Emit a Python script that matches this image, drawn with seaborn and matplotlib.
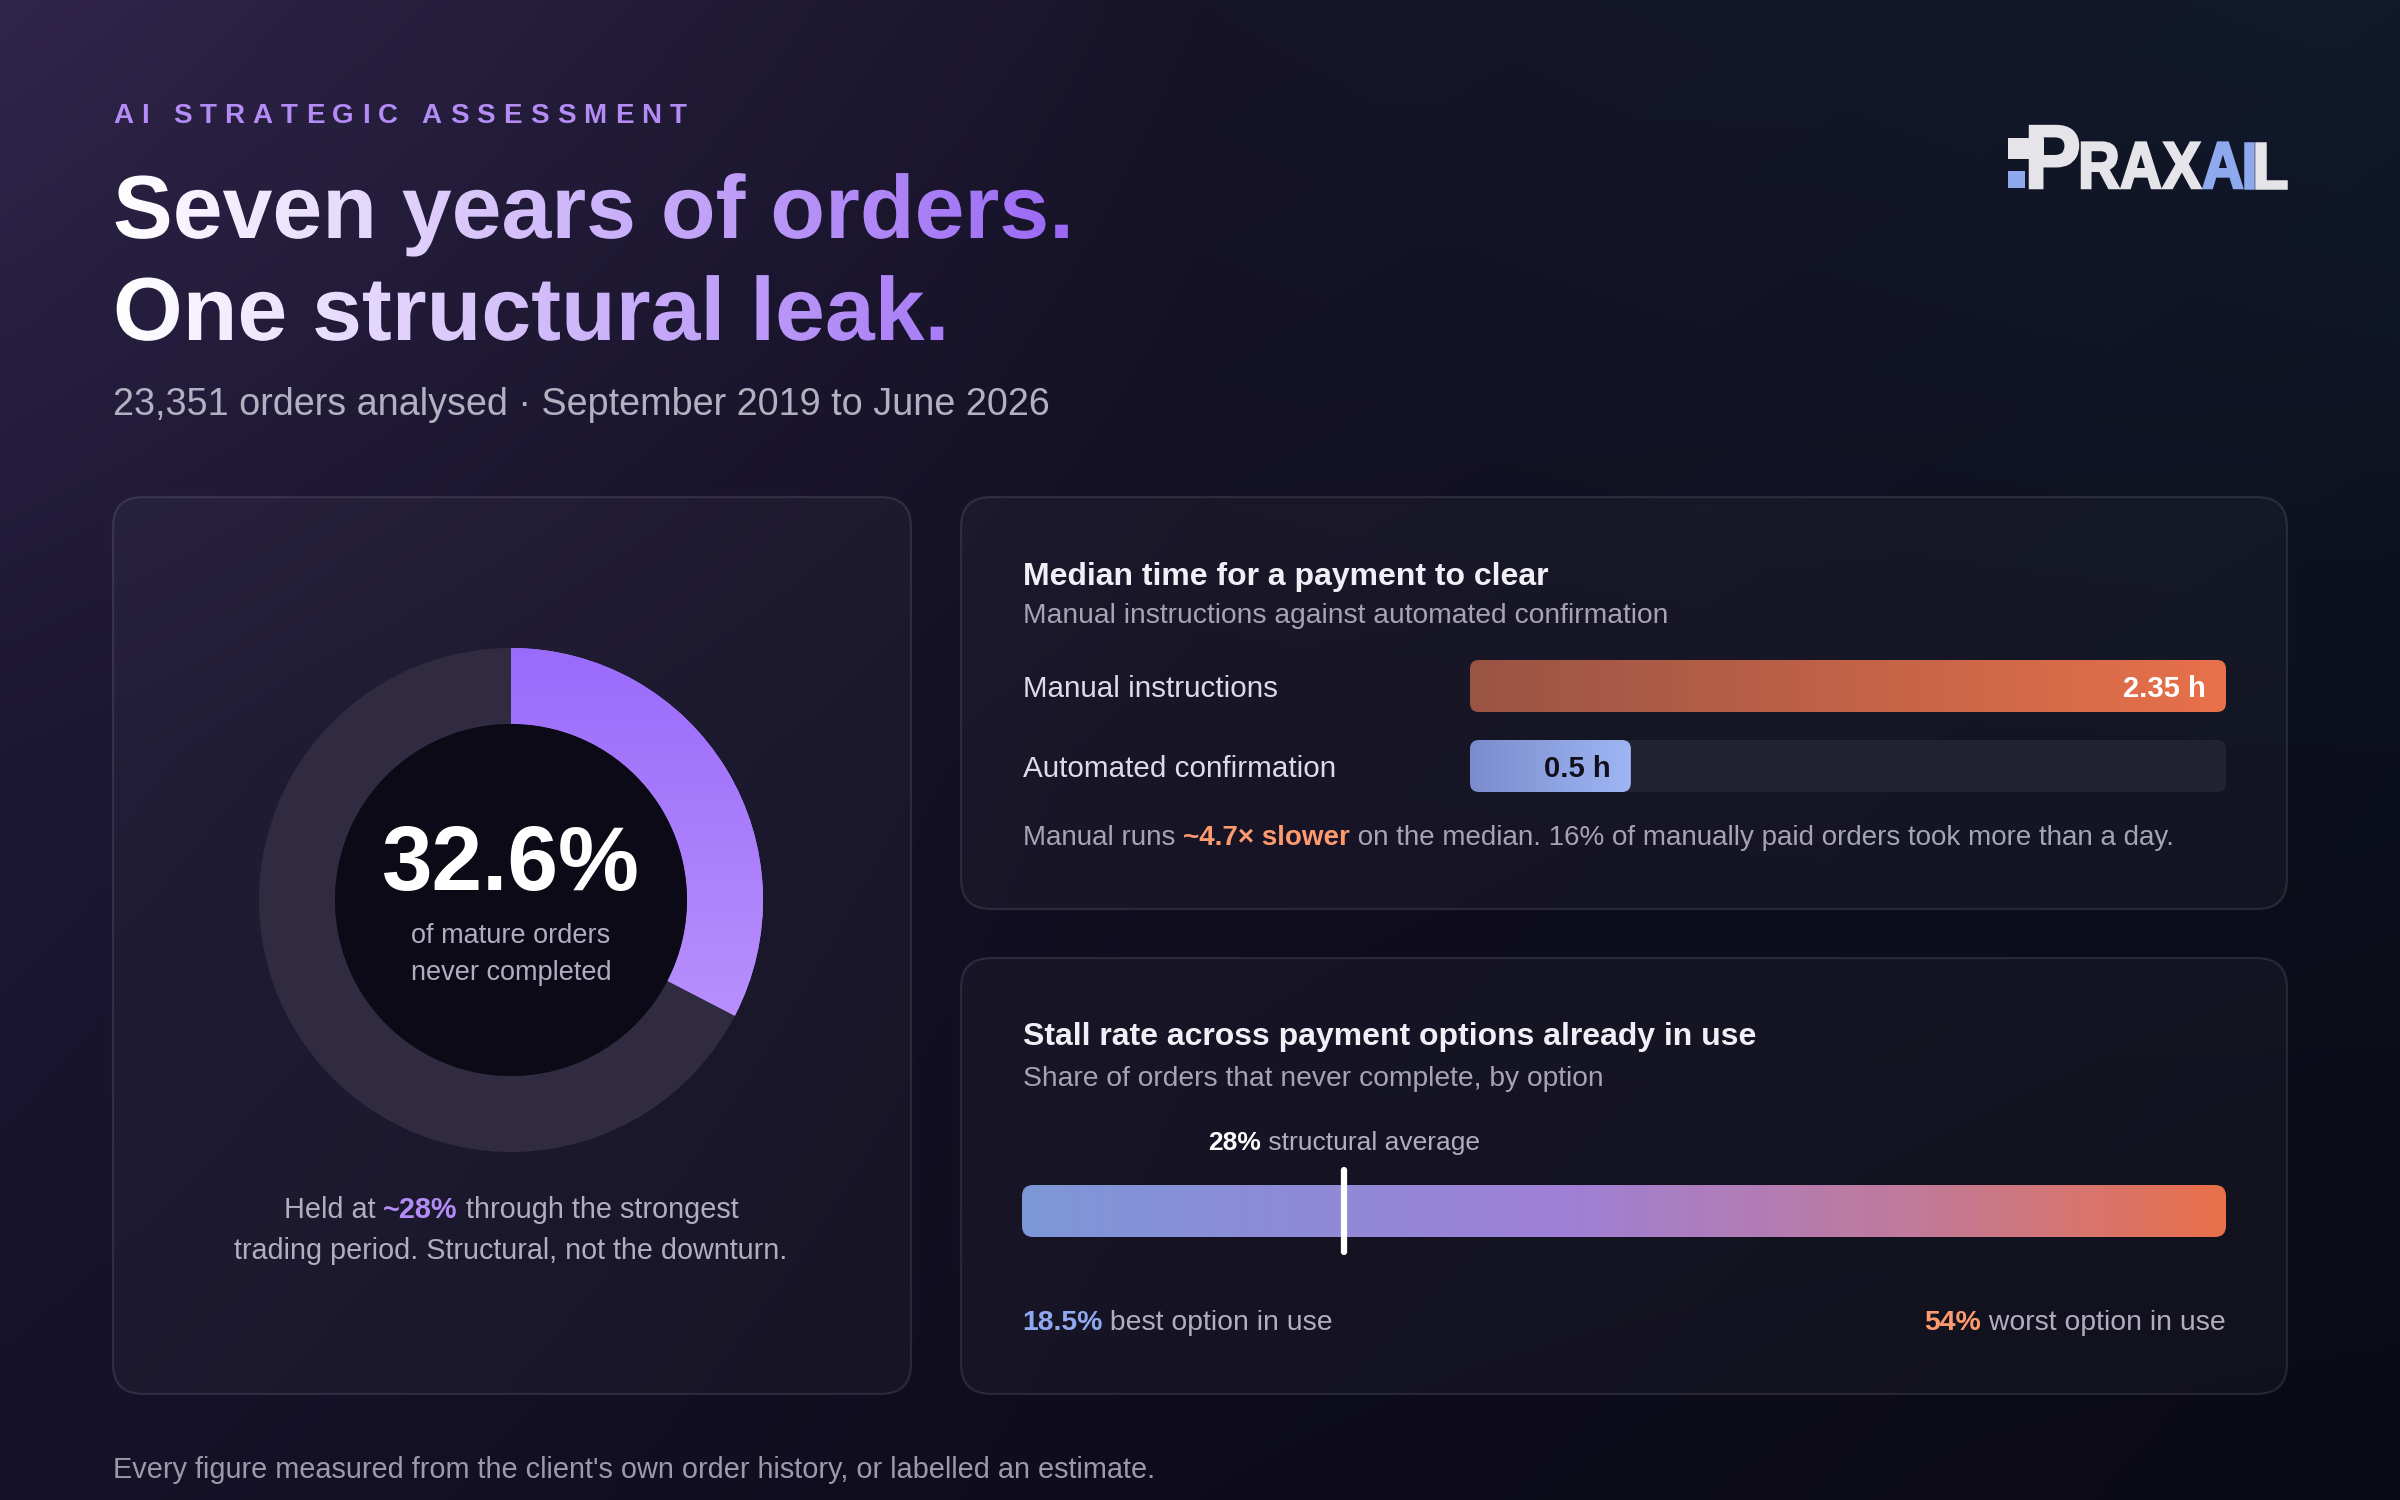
import numpy as np
import pandas as pd
import matplotlib
matplotlib.use("Agg")
import matplotlib.pyplot as plt
import seaborn as sns
from matplotlib.patches import FancyBboxPatch, PathPatch, Circle, Rectangle
from matplotlib.textpath import TextPath
from matplotlib.font_manager import FontProperties
from matplotlib.transforms import Affine2D
from matplotlib.colors import LinearSegmentedColormap, to_rgb
from matplotlib.path import Path

# ---------------- data ----------------
eyebrow = "AI STRATEGIC ASSESSMENT"
title_lines = ["Seven years of orders.", "One structural leak."]
subtitle = "23,351 orders analysed · September 2019 to June 2026"
donut_labels = ["Never completed", "Completed"]
donut_values = [32.6, 67.4]
donut_headline = "32.6%"
donut_caption = ["of mature orders", "never completed"]
held_rate = "~28%"
pay_methods = ["Manual instructions", "Automated confirmation"]
pay_hours = [2.35, 0.5]
pay_value_labels = ["2.35 h", "0.5 h"]
slower_factor = "~4.7× slower"
stall_best = 18.5
stall_worst = 54.0
stall_average = 28.0
footer = "Every figure measured from the client's own order history, or labelled an estimate."

# ---------------- setup ----------------
sns.set_theme(style="white")
plt.rcParams["font.family"] = ["Liberation Sans", "DejaVu Sans"]

W, H = 2400, 1500
fig = plt.figure(figsize=(24, 15), dpi=100)
fig.patch.set_facecolor("#0e0c1b")
bg = fig.add_axes([0, 0, 1, 1])
bg.set_xlim(0, W)
bg.set_ylim(H, 0)
bg.set_autoscale_on(False)
bg.axis("off")
bg.set_zorder(0)
renderer = fig.canvas.get_renderer()
PX = bg.transData


def frac(x0, y0, x1, y1):
    return [x0 / W, 1 - y1 / H, (x1 - x0) / W, (y1 - y0) / H]


def to_bg(ax, x, y):
    d = ax.transData.transform((x, y))
    return bg.transData.inverted().transform(d)


# ---------------- background ----------------
grid = [["#30254a", "#171429", "#111a2b"],
        ["#1c1734", "#110e20", "#0c0f1c"],
        ["#16122a", "#0e0c1b", "#0a0a14"]]
G = np.array([[to_rgb(c) for c in row] for row in grid])
xs = np.linspace(0, W, 481)
ys = np.linspace(0, H, 301)
gx = np.array([0, 1200, 2400])
rows = np.stack([np.stack([np.interp(xs, gx, G[r, :, ch]) for ch in range(3)], -1) for r in range(3)])
ty = ys / 750.0
idx = np.minimum(ty.astype(int), 1)
fy = (ty - idx)[:, None, None]
img = rows[idx] * (1 - fy) + rows[idx + 1] * fy
bg.imshow(img, extent=(0, W, H, 0), origin="upper", aspect="auto", interpolation="bilinear", zorder=0)

# ---------------- cards ----------------
for (x0, y0, x1, y1) in [(113, 497, 911, 1394), (961, 497, 2287, 909), (961, 958, 2287, 1394)]:
    bg.add_patch(FancyBboxPatch((x0, y0), x1 - x0, y1 - y0,
                                boxstyle="round,pad=0,rounding_size=30",
                                fc=(1, 1, 1, 0.032), ec=(1, 1, 1, 0.10), lw=1.6,
                                transform=PX, zorder=1))


# ---------------- text helpers ----------------
def tw(s, size, weight="normal"):
    t1 = fig.text(0, 0, s + "|", fontsize=size, fontweight=weight)
    t2 = fig.text(0, 0, "|", fontsize=size, fontweight=weight)
    w = t1.get_window_extent(renderer).width - t2.get_window_extent(renderer).width
    t1.remove()
    t2.remove()
    return w


def rich(x, y, runs, size, ha="left", va="baseline"):
    ws = [tw(t, size, wt) for t, c, wt in runs]
    total = sum(ws)
    x0 = x - total / 2 if ha == "center" else (x - total if ha == "right" else x)
    cx = x0
    for (t, c, wt), wd in zip(runs, ws):
        fig.text(cx, y, t, color=c, fontsize=size, fontweight=wt, ha="left", va=va,
                 transform=PX, zorder=10)
        cx += wd
    return total


GREY = "#b1aec0"
DIM = "#a6a3b5"
WHITE = "#f1eff6"
PURPLE = "#b48cf5"
ORANGE = "#ff9a6e"
BLUE = "#8fa9f0"

# eyebrow with letter spacing
cx = 113
for ch in eyebrow:
    fig.text(cx, 123, ch, color=PURPLE, fontsize=20, fontweight="bold", transform=PX,
             va="baseline", ha="left", zorder=10)
    cx += tw(ch, 20, "bold") + 8.1

# gradient title
fp_bold = FontProperties(family="Liberation Sans", weight="bold")
title_em = 64.5 * 100 / 72
paths = []
for line, base in zip(title_lines, [238, 340]):
    tp = TextPath((0, 0), line, size=title_em, prop=fp_bold)
    paths.append(Affine2D().scale(1, -1).translate(113, base).transform_path(tp))
tpath = Path.make_compound_path(*paths)
tpatch = PathPatch(tpath, fc="none", ec="none", transform=PX)
bg.add_patch(tpatch)
tcmap = LinearSegmentedColormap.from_list("t", ["#ffffff", "#9a68f4"])
tim = bg.imshow(np.linspace(0, 1, 256)[None, :], cmap=tcmap, extent=(113, 1076, 360, 150),
                aspect="auto", interpolation="bicubic", zorder=3)
tim.set_clip_path(tpatch)

fig.text(113, 415, subtitle, color="#b3b0c1", fontsize=27.2, transform=PX, va="baseline", zorder=10)

# ---------------- logo ----------------
def glyph(text, x, base, em, sx, color, lw=1.8):
    tp = TextPath((0, 0), text, size=em, prop=fp_bold)
    ext = tp.get_extents()
    tr = Affine2D().translate(-ext.x0, 0).scale(sx, -1).translate(x, base)
    bg.add_patch(PathPatch(tr.transform_path(tp), fc=color, ec=color, lw=lw,
                           transform=PX, zorder=5))
    return ext.width * sx

LOGO_W = "#e4e4e9"
LOGO_B = "#8fa9ef"
bg.add_patch(Rectangle((2008, 138), 36, 21, fc=LOGO_W, ec="none", transform=PX, zorder=5))
bg.add_patch(Rectangle((2008, 171), 17, 17, fc=LOGO_B, ec="none", transform=PX, zorder=5))
pext = TextPath((0, 0), "P", size=90, prop=fp_bold).get_extents()
glyph("P", 2030, 188, 90, 48 / pext.width, LOGO_W)
letters = [("R", LOGO_W), ("A", LOGO_W), ("X", LOGO_W), ("A", LOGO_B), ("I", LOGO_B), ("L", LOGO_W)]
raw = sum(TextPath((0, 0), l, size=66, prop=fp_bold).get_extents().width for l, _ in letters)
gap = 3
sx = (2286 - 2082 - gap * 5) / raw
lx = 2082
for l, c in letters:
    lx += glyph(l, lx, 188, 66, sx, c) + gap

# ---------------- donut ----------------
dax = fig.add_axes(frac(251, 640, 771, 1160))
dax.set_zorder(1)
wedges, _ = dax.pie(donut_values, labels=None, radius=252, startangle=90, counterclock=False,
                    colors=["#ad85fb", "#302b40"],
                    wedgeprops=dict(width=76, linewidth=0, edgecolor="none"))
pcmap = LinearSegmentedColormap.from_list("p", ["#c49efc", "#9a6afb"])
pim = dax.imshow(np.linspace(0, 1, 256)[:, None], cmap=pcmap, extent=(-260, 260, -260, 260),
                 origin="lower", aspect="auto", zorder=2)
pim.set_clip_path(wedges[0])
dax.add_patch(Circle((0, 0), 176, fc="#0c0a17", ec="none", zorder=3))
dax.set_xlim(-260, 260)
dax.set_ylim(-260, 260)
dax.set_aspect("equal")
dax.axis("off")

fig.text(511, 890, donut_headline, color="white", fontsize=65.5, fontweight="bold",
         ha="center", va="baseline", transform=PX, zorder=10)
fig.text(511, 943, donut_caption[0], color=GREY, fontsize=19.5, ha="center", va="baseline",
         transform=PX, zorder=10)
fig.text(511, 980, donut_caption[1], color=GREY, fontsize=19.5, ha="center", va="baseline",
         transform=PX, zorder=10)
rich(511, 1218, [("Held at ", GREY, "normal"), (held_rate, PURPLE, "bold"),
                 (" through the strongest", GREY, "normal")], 20.8, ha="center")
rich(511, 1259, [("trading period. Structural, not the downturn.", GREY, "normal")], 20.7, ha="center")

# ---------------- payment time bars ----------------
fig.text(1023, 585, "Median time for a payment to clear", color=WHITE, fontsize=23,
         fontweight="bold", transform=PX, va="baseline", zorder=10)
fig.text(1023, 623, "Manual instructions against automated confirmation", color=DIM,
         fontsize=20.3, transform=PX, va="baseline", zorder=10)

bax = fig.add_axes(frac(1470, 640, 2226, 812))
bax.set_zorder(2)
df = pd.DataFrame({"method": pay_methods, "hours": pay_hours})
sns.barplot(data=df, x="hours", y="method", orient="h", width=0.65, color="#888888", ax=bax)
bax.set_xlim(0, max(pay_hours))
bax.set_ylim(1.575, -0.575)
bax.axis("off")

bar_cmaps = [LinearSegmentedColormap.from_list("m", ["#9a5444", "#e8714b"]),
             LinearSegmentedColormap.from_list("a", ["#7a8ccb", "#9fb6f4"])]
xmax = max(pay_hours)
for i, p in enumerate(bax.patches[:len(pay_hours)]):
    p.set_visible(False)
    y0d, y1d = p.get_y(), p.get_y() + p.get_height()
    (tx0, ty0) = to_bg(bax, 0, y0d)
    (tx1, ty1) = to_bg(bax, xmax, y1d)
    top, bot = min(ty0, ty1), max(ty0, ty1)
    bg.add_patch(FancyBboxPatch((tx0, top), tx1 - tx0, bot - top,
                                boxstyle="round,pad=0,rounding_size=9",
                                fc="#222330", ec="none", transform=PX, zorder=3))
    (bx1, _) = to_bg(bax, p.get_x() + p.get_width(), y0d)
    clip = FancyBboxPatch((tx0, top), bx1 - tx0, bot - top,
                          boxstyle="round,pad=0,rounding_size=9",
                          fc="none", ec="none", transform=PX, zorder=4)
    bg.add_patch(clip)
    im = bg.imshow(np.linspace(0, 1, 256)[None, :], cmap=bar_cmaps[i],
                   extent=(tx0, bx1, bot, top), aspect="auto", interpolation="bicubic", zorder=4)
    im.set_clip_path(clip)
    lab_col = "white" if i == 0 else "#11101c"
    bax.annotate(pay_value_labels[i], xy=(pay_hours[i], i), xytext=(-20, 0),
                 textcoords="offset pixels", ha="right", va="center_baseline",
                 color=lab_col, fontsize=21, fontweight="bold", zorder=10)
    fig.text(1023, (top + bot) / 2, pay_methods[i], color="#dddbe6", fontsize=21.3,
             va="center_baseline", transform=PX, zorder=10)

rich(1023, 845, [("Manual runs ", DIM, "normal"), (slower_factor, ORANGE, "bold"),
                 (" on the median. 16% of manually paid orders took more than a day.", DIM, "normal")],
     20.0)

# ---------------- stall range ----------------
fig.text(1023, 1045, "Stall rate across payment options already in use", color=WHITE,
         fontsize=23, fontweight="bold", transform=PX, va="baseline", zorder=10)
fig.text(1023, 1086, "Share of orders that never complete, by option", color=DIM,
         fontsize=20.3, transform=PX, va="baseline", zorder=10)

rax = fig.add_axes(frac(1022, 1185, 2226, 1237))
rax.set_xlim(stall_best, stall_worst)
rax.set_ylim(0, 1)
rax.axis("off")
(rx0, ry1) = to_bg(rax, stall_best, 0)
(rx1, ry0) = to_bg(rax, stall_worst, 1)
rclip = FancyBboxPatch((rx0, ry0), rx1 - rx0, ry1 - ry0, boxstyle="round,pad=0,rounding_size=11",
                       fc="none", ec="none", transform=PX, zorder=4)
bg.add_patch(rclip)
rcmap = LinearSegmentedColormap.from_list(
    "r", [(0, "#7d97d6"), (0.45, "#9f80d6"), (0.75, "#c27a98"), (1, "#e8704a")])
rim = bg.imshow(np.linspace(0, 1, 256)[None, :], cmap=rcmap, extent=(rx0, rx1, ry1, ry0),
                aspect="auto", interpolation="bicubic", zorder=4)
rim.set_clip_path(rclip)
(mx, _) = to_bg(rax, stall_average, 0.5)
bg.plot([mx, mx], [1170, 1252], color="white", lw=4.5, solid_capstyle="round", zorder=6)

rich(mx, 1150, [(f"{stall_average:.0f}%", "white", "bold"), (" structural average", GREY, "normal")],
     19, ha="center")
rich(rx0, 1330, [(f"{stall_best}%", BLUE, "bold"), (" best option in use", GREY, "normal")], 20.4)
rich(rx1, 1330, [(f"{stall_worst:.0f}%", ORANGE, "bold"), (" worst option in use", GREY, "normal")],
     20.4, ha="right")

# ---------------- footer ----------------
fig.text(113, 1478, footer, color="#9c99ab", fontsize=20.8, transform=PX, va="baseline", zorder=10)

fig.savefig("out.png", dpi=100, facecolor=fig.get_facecolor())
